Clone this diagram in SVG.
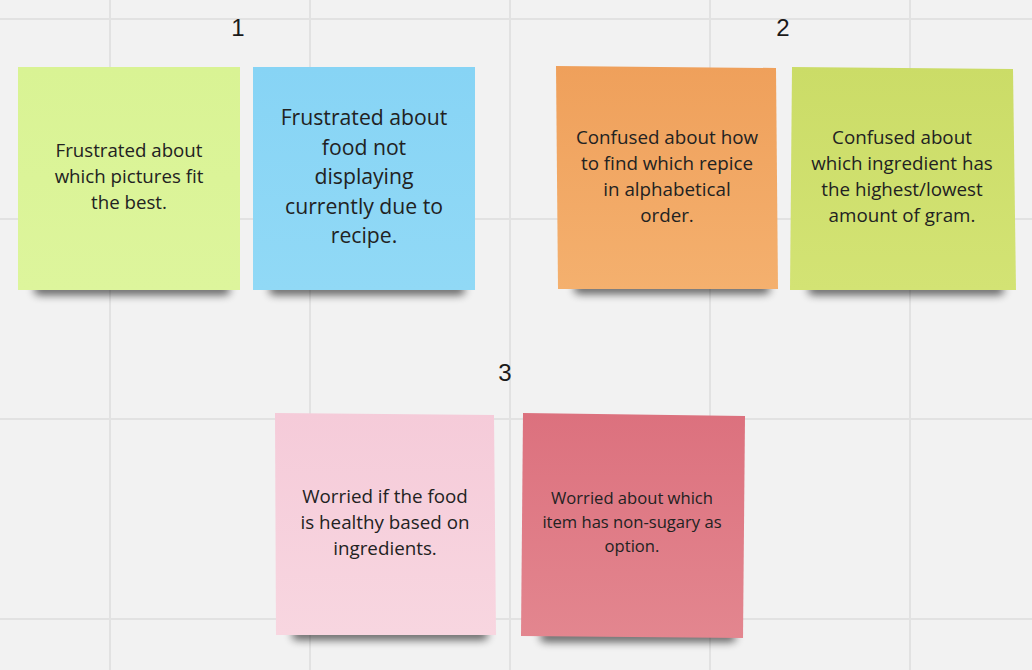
<svg xmlns="http://www.w3.org/2000/svg" width="1032" height="670" viewBox="0 0 1032 670">
<defs>
<style>
.grid{stroke:#e2e2e2;stroke-width:2}
.t{font-family:"Open Sans","Noto Sans",sans-serif;fill:#222;text-anchor:middle}
.num{font-family:"Liberation Sans",Arial,sans-serif;font-size:24px;fill:#1a1a1a;text-anchor:middle}
.sh{fill:#000;opacity:0.6;filter:url(#blur)}
</style>
<filter id="blur" x="-20%" y="-200%" width="140%" height="500%"><feGaussianBlur stdDeviation="4.5"/></filter>
<linearGradient id="gGreen" x1="0" y1="0" x2="0" y2="1"><stop offset="0" stop-color="#d9f394"/><stop offset="1" stop-color="#ddf59c"/></linearGradient>
<linearGradient id="gBlue" x1="0" y1="0" x2="0" y2="1"><stop offset="0" stop-color="#87d4f5"/><stop offset="1" stop-color="#91d9f6"/></linearGradient>
<linearGradient id="gOrange" x1="0" y1="0" x2="0" y2="1"><stop offset="0" stop-color="#efa05b"/><stop offset="1" stop-color="#f4b06e"/></linearGradient>
<linearGradient id="gLime" x1="0" y1="0" x2="0" y2="1"><stop offset="0" stop-color="#cbdc67"/><stop offset="1" stop-color="#d3e374"/></linearGradient>
<linearGradient id="gPink" x1="0" y1="0" x2="0" y2="1"><stop offset="0" stop-color="#f5cbd9"/><stop offset="1" stop-color="#f8d6e0"/></linearGradient>
<linearGradient id="gRed" x1="0" y1="0" x2="0" y2="1"><stop offset="0" stop-color="#dc717e"/><stop offset="1" stop-color="#e3868f"/></linearGradient>
</defs>
<rect width="1032" height="670" fill="#f2f2f2"/>
<g id="grid">
<line class="grid" x1="110" y1="0" x2="110" y2="670"/>
<line class="grid" x1="310" y1="0" x2="310" y2="670"/>
<line class="grid" x1="510" y1="0" x2="510" y2="670"/>
<line class="grid" x1="710" y1="0" x2="710" y2="670"/>
<line class="grid" x1="910" y1="0" x2="910" y2="670"/>
<line class="grid" x1="0" y1="19" x2="1032" y2="19"/>
<line class="grid" x1="0" y1="219" x2="1032" y2="219"/>
<line class="grid" x1="0" y1="419" x2="1032" y2="419"/>
<line class="grid" x1="0" y1="619" x2="1032" y2="619"/>
</g>
<g id="labels">
<text class="num" x="238" y="36">1</text>
<text class="num" x="783" y="36">2</text>
<text class="num" x="505" y="381">3</text>
</g>
<g id="connectors"></g>
<g id="note1">
<rect class="sh" x="34" y="284" width="196" height="11" rx="5"/>
<rect x="18" y="67" width="222" height="223" fill="url(#gGreen)"/>
<text class="t" font-size="18.7"><tspan x="129" y="157">Frustrated about</tspan><tspan x="129" y="183">which pictures fit</tspan><tspan x="129" y="209">the best.</tspan></text>
</g>
<g id="note2">
<rect class="sh" x="269" y="284" width="196" height="11" rx="5"/>
<rect x="253" y="67" width="222" height="223" fill="url(#gBlue)"/>
<text class="t" font-size="21.2"><tspan x="364" y="125">Frustrated about</tspan><tspan x="364" y="154.5">food not</tspan><tspan x="364" y="184">displaying</tspan><tspan x="364" y="213.5">currently due to</tspan><tspan x="364" y="243">recipe.</tspan></text>
</g>
<g id="note3">
<rect class="sh" x="574" y="283" width="196" height="11" rx="5"/>
<polygon points="556,66 776,68 778,289 558,289" fill="url(#gOrange)"/>
<text class="t" font-size="18.8"><tspan x="667" y="144">Confused about how</tspan><tspan x="667" y="170">to find which repice</tspan><tspan x="667" y="196">in alphabetical</tspan><tspan x="667" y="222">order.</tspan></text>
</g>
<g id="note4">
<rect class="sh" x="808" y="284" width="196" height="11" rx="5"/>
<polygon points="792,67 1013,69 1016,290 790,290" fill="url(#gLime)"/>
<text class="t" font-size="18.8"><tspan x="902" y="144">Confused about</tspan><tspan x="902" y="170">which ingredient has</tspan><tspan x="902" y="196">the highest/lowest</tspan><tspan x="902" y="222">amount of gram.</tspan></text>
</g>
<g id="note5">
<rect class="sh" x="292" y="629" width="196" height="11" rx="5"/>
<polygon points="275,413 494,415 496,635 276,635" fill="url(#gPink)"/>
<text class="t" font-size="18.8"><tspan x="385" y="503">Worried if the food</tspan><tspan x="385" y="529">is healthy based on</tspan><tspan x="385" y="555">ingredients.</tspan></text>
</g>
<g id="note6">
<rect class="sh" x="540" y="631" width="196" height="11" rx="5"/>
<polygon points="523,413 745,416 743,638 521,636" fill="url(#gRed)"/>
<text class="t" font-size="16.6"><tspan x="632" y="504">Worried about which</tspan><tspan x="632" y="528">item has non-sugary as</tspan><tspan x="632" y="552">option.</tspan></text>
</g>
</svg>
